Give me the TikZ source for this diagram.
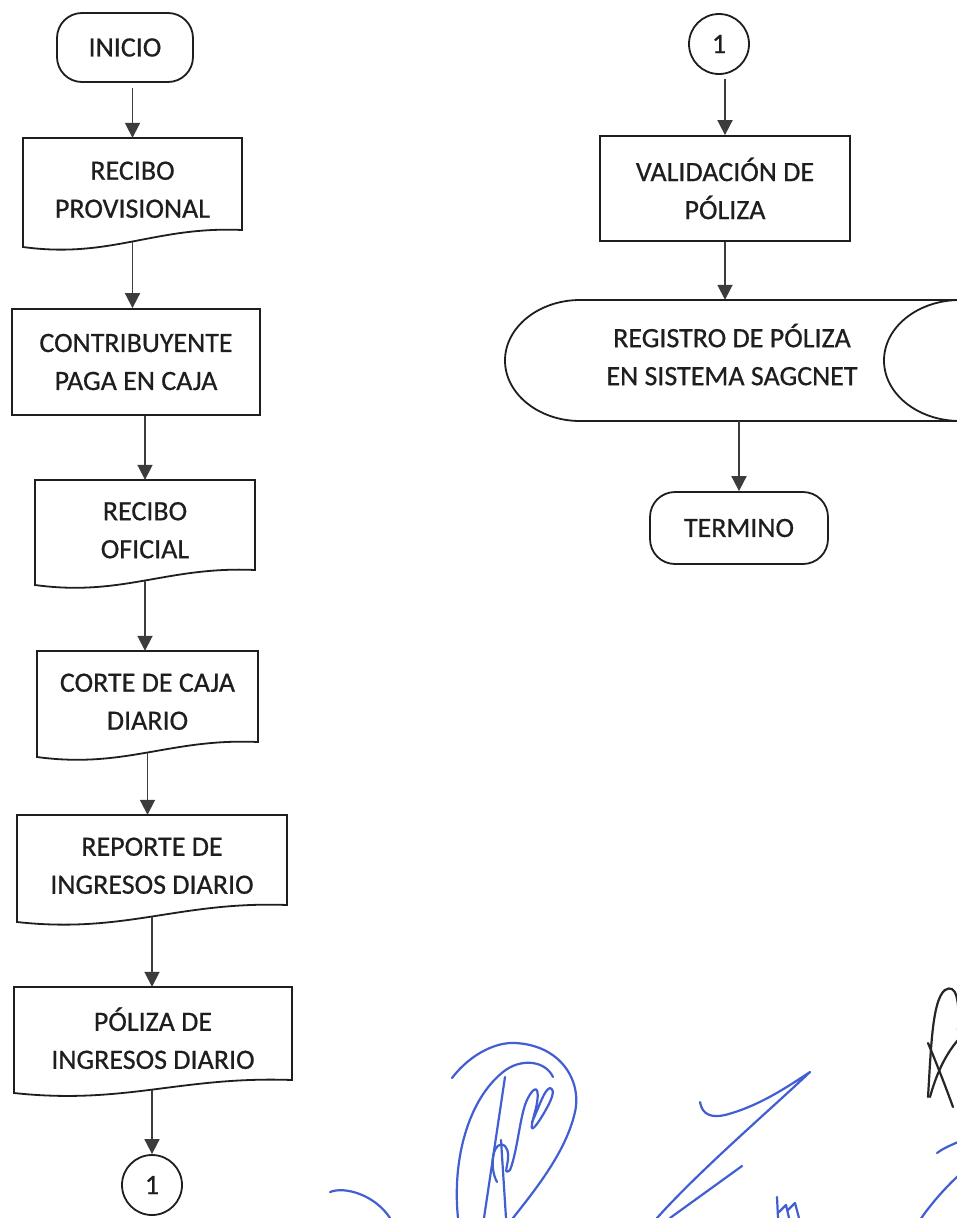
\documentclass[tikz,border=0pt]{standalone}
\usepackage{fontspec}
\setmainfont{Carlito}[FakeBold=0.6]
\newfontfamily\diagfont{Carlito}[FakeBold=0.6]
\usetikzlibrary{arrows.meta}
\definecolor{ink}{RGB}{30,30,30}
\definecolor{arrowgray}{RGB}{60,60,60}
\definecolor{sigblue}{RGB}{65,95,210}
\tikzset{
  shapeline/.style={draw=ink, line width=1.8pt},
  txt/.style={font=\diagfont\fontsize{28}{38}\selectfont, text=ink, align=center, inner sep=0pt},
  doc/.style={txt, rectangle},
  procbox/.style={txt, rectangle, shapeline},
  term/.style={txt, rectangle, shapeline, rounded corners=25pt},
  conn/.style={txt, circle, shapeline, minimum size=60pt},
  arr/.style={draw=arrowgray, line width=1.8pt, -{Triangle[width=15pt,length=15pt]}},
  sig/.style={draw=sigblue, line width=2.2pt, line cap=round, line join=round},
  sigk/.style={draw=black!85, line width=2.2pt, line cap=round, line join=round}
}
\newcommand\docnode[7]{%
  \pgfmathsetmacro\dcL{#2}\pgfmathsetmacro\dcR{#3}\pgfmathsetmacro\dcT{#4}%
  \pgfmathsetmacro\dcYr{#5}\pgfmathsetmacro\dcYl{#6}%
  \pgfmathsetmacro\dcYm{(\dcYl+\dcYr)/2+3}%
  \pgfmathsetmacro\dcW{\dcR-\dcL}%
  \pgfmathsetmacro\dcH{\dcYm-\dcT}%
  \pgfmathsetmacro\dcX{(\dcL+\dcR)/2}%
  \pgfmathsetmacro\dcY{(\dcT+\dcYm)/2}%
  \node[doc, minimum width=\dcW pt, minimum height=\dcH pt] (#1) at (\dcX,\dcY) {#7};
  \draw[shapeline] (\dcL,\dcYl) -- (\dcL,\dcT) -- (\dcR,\dcT) -- (\dcR,\dcYr)
     .. controls ({\dcL+0.6*\dcW},{\dcYr-4}) and ({\dcL+0.4*\dcW},{\dcYl+12}) .. (\dcL,\dcYl) -- cycle;
}
\begin{document}
\begin{tikzpicture}[x=1pt,y=-1pt]
\fill[white] (0,0) rectangle (956,1218);
\useasboundingbox (0,0) rectangle (956,1218);

% ---------- left column ----------
\node[term, minimum width=136pt, minimum height=69pt] (inicio) at (125,47.5) {INICIO};
\docnode{rp}{23}{242}{138}{230}{247}{RECIBO\\PROVISIONAL}
\node[procbox, minimum width=248pt, minimum height=106pt] (cp) at (136,362) {CONTRIBUYENTE\\PAGA EN CAJA};
\docnode{ro}{35}{255}{480}{570}{585}{RECIBO\\OFICIAL}
\docnode{cc}{37}{258}{651}{742}{757}{CORTE DE CAJA\\DIARIO}
\docnode{ri}{17}{287}{815}{905}{922}{REPORTE DE\\INGRESOS DIARIO}
\docnode{pi}{14}{292}{987}{1080}{1093}{PÓLIZA DE\\INGRESOS DIARIO}
\node[conn] (c1) at (152,1185) {1};

\draw[arr, shorten <=5pt] (inicio.south -| rp.north) -- (rp.north);
\draw[arr] (rp.south) -- (rp.south |- cp.north);
\draw[arr] (cp.south -| ro.north) -- (ro.north);
\draw[arr] (ro.south) -- (ro.south |- cc.north);
\draw[arr] (cc.south) -- (cc.south |- ri.north);
\draw[arr] (ri.south) -- (ri.south |- pi.north);
\draw[arr] (pi.south -| c1.north) -- (c1.north);

% ---------- right column ----------
\node[conn] (c2) at (719,44) {1};
\node[procbox, minimum width=250pt, minimum height=105pt] (vp) at (725,188.5) {VALIDACIÓN DE\\PÓLIZA};
\node[doc, minimum width=300pt, minimum height=121pt] (reg) at (732,360.5) {REGISTRO DE PÓLIZA\\EN SISTEMA SAGCNET\\[-26pt]\mbox{}};
\draw[shapeline] (960,300) -- (580,300)
   .. controls (539,300) and (505,327) .. (505,360.5)
   .. controls (505,394) and (539,421) .. (580,421) -- (960,421);
\draw[shapeline] (960,300) .. controls (918,300) and (884,327) .. (884,360.5)
   .. controls (884,394) and (918,421) .. (960,421);
\node[term, minimum width=178pt, minimum height=72pt] (termino) at (739,528) {TERMINO};

\draw[arr, shorten <=4pt] (c2.south -| vp.north) -- (vp.north);
\draw[arr] (vp.south) -- (vp.south |- reg.north);
\draw[arr] (reg.south -| termino.north) -- (termino.north);

% ---------- signatures ----------
\draw[sig] (330,1192) .. controls (345,1186) and (375,1195) .. (390,1218);
\draw[sig] (452,1078) .. controls (472,1052) and (498,1042) .. (515,1043)
   .. controls (560,1045) and (582,1080) .. (575,1112)
   .. controls (566,1152) and (535,1190) .. (513,1218);
\draw[sig] (458,1218) .. controls (452,1160) and (468,1100) .. (503,1072)
   .. controls (520,1058) and (545,1060) .. (553,1077);
\draw[sig] (505,1077) -- (484,1218);
\draw[sig] (501,1140) -- (506,1218);
\draw[sig] (497,1182) .. controls (488,1165) and (494,1138) .. (505,1146)
   .. controls (514,1156) and (500,1178) .. (510,1170)
   .. controls (518,1150) and (520,1112) .. (528,1098)
   .. controls (534,1086) and (541,1084) .. (536,1108)
   .. controls (531,1126) and (528,1138) .. (541,1118)
   .. controls (552,1100) and (556,1090) .. (550,1088)
   .. controls (544,1090) and (540,1105) .. (532,1122);
\draw[sig] (700,1102) .. controls (702,1115) and (712,1118) .. (725,1115)
   .. controls (760,1106) and (790,1085) .. (810,1072)
   .. controls (770,1110) and (700,1170) .. (657,1218);
\draw[sig] (742,1166) -- (670,1218);
\draw[sig] (777,1197) -- (778,1218);
\draw[sig] (779,1212) -- (786,1205) -- (789,1218);
\draw[sig] (788,1210) -- (795,1203) -- (799,1218);
\draw[sigk] (928,1097) .. controls (931,1050) and (932,1000) .. (945,990)
   .. controls (956,983) and (960,1000) .. (958,1030);
\draw[sigk] (928,1043) .. controls (936,1062) and (945,1085) .. (953,1107);
\draw[sigk] (930,1097) .. controls (936,1075) and (945,1055) .. (958,1040);
\draw[sig] (937,1153) .. controls (942,1149) and (949,1146) .. (958,1142);
\draw[sig] (920,1220) .. controls (930,1205) and (945,1188) .. (958,1176);
\end{tikzpicture}
\end{document}
